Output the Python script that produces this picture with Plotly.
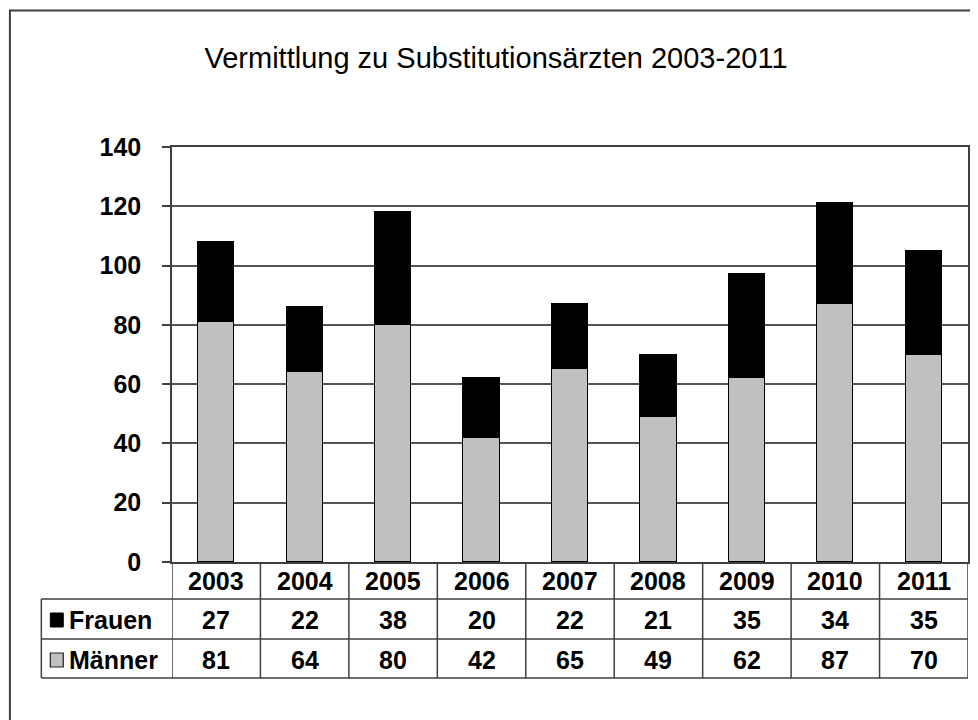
import plotly.graph_objects as go

# ---- data ----
years = ["2003", "2004", "2005", "2006", "2007", "2008", "2009", "2010", "2011"]
frauen = [27, 22, 38, 20, 22, 21, 35, 34, 35]
maenner = [81, 64, 80, 42, 65, 49, 62, 87, 70]
y_ticks = [0, 20, 40, 60, 80, 100, 120, 140]
series_names = ["Frauen", "Männer"]
title_text = "Vermittlung zu Substitutionsärzten 2003-2011"

# ---- layout helpers ----
# The page body has an 8px default margin, so the figure is drawn at (8, 8);
# all target positions below are in window pixels.
OFF = 8
WIN_W, WIN_H = 978, 720
W, H = WIN_W - OFF, WIN_H - OFF
L, R, T, B = 172, 970, 147, 562  # plot area in window pixels


def px(x):
    return (x - L) / (R - L)


def py(y):
    return (B - y) / (B - T)


FONT = "Arial, Liberation Sans, sans-serif"
LINE = "#404040"
GRAY = "#C0C0C0"

xs = list(range(len(years)))

fig = go.Figure()
fig.add_bar(x=xs, y=maenner, name=series_names[1], width=0.41,
            marker=dict(color=GRAY, line=dict(color="black", width=1.3)))
fig.add_bar(x=xs, y=frauen, name=series_names[0], width=0.41,
            marker=dict(color="black", line=dict(color="black", width=1.3)))

shapes = []
# outer chart border
shapes.append(dict(type="rect", xref="paper", yref="paper",
                   x0=px(9.5), x1=px(1200), y0=py(1000), y1=py(10.5),
                   line=dict(color=LINE, width=2), fillcolor="rgba(0,0,0,0)", layer="below"))
# table horizontal lines
for yy, x0 in [(599, 41), (639, 41), (678, 41)]:
    shapes.append(dict(type="line", xref="paper", yref="paper",
                       x0=px(x0), x1=1, y0=py(yy), y1=py(yy),
                       line=dict(color=LINE, width=1.5)))
# table left border (legend column)
shapes.append(dict(type="line", xref="paper", yref="paper",
                   x0=px(41), x1=px(41), y0=py(599), y1=py(678),
                   line=dict(color=LINE, width=1.5)))
# column separators
for i in range(len(years) + 1):
    shapes.append(dict(type="line", xref="x", yref="paper",
                       x0=i - 0.5, x1=i - 0.5, y0=py(562), y1=py(678),
                       line=dict(color=LINE, width=1.5)))
# legend keys
shapes.append(dict(type="rect", xref="paper", yref="paper",
                   x0=px(50), x1=px(63), y0=py(627), y1=py(613),
                   fillcolor="black", line=dict(color="black", width=1)))
shapes.append(dict(type="rect", xref="paper", yref="paper",
                   x0=px(50), x1=px(63), y0=py(667), y1=py(653),
                   fillcolor=GRAY, line=dict(color="#202020", width=1.2)))

annotations = []
tf = dict(family=FONT, size=25, color="black", weight="bold")
for i, yr in enumerate(years):
    annotations.append(dict(x=i, y=py(581), xref="x", yref="paper", text=yr,
                            showarrow=False, xanchor="center", yanchor="middle", font=tf))
    annotations.append(dict(x=i, y=py(620), xref="x", yref="paper", text=str(frauen[i]),
                            showarrow=False, xanchor="center", yanchor="middle", font=tf))
    annotations.append(dict(x=i, y=py(660), xref="x", yref="paper", text=str(maenner[i]),
                            showarrow=False, xanchor="center", yanchor="middle", font=tf))
annotations.append(dict(x=px(67), y=py(620), xref="paper", yref="paper", text=series_names[0],
                        showarrow=False, xanchor="left", yanchor="middle", font=tf))
annotations.append(dict(x=px(67), y=py(660), xref="paper", yref="paper", text=series_names[1],
                        showarrow=False, xanchor="left", yanchor="middle", font=tf))

fig.update_layout(
    width=W, height=H,
    margin=dict(l=L - OFF, r=WIN_W - R, t=T - OFF, b=WIN_H - B, pad=0),
    paper_bgcolor="white", plot_bgcolor="white",
    barmode="stack", showlegend=False, bargap=0,
    title=dict(text=title_text, x=(496 - OFF) / W, xref="container", xanchor="center",
               y=1 - (58 - OFF) / H, yref="container", yanchor="middle",
               font=dict(family=FONT, size=29, color="black")),
    xaxis=dict(range=[-0.5, len(years) - 0.5], showticklabels=False, ticks="",
               showgrid=False, zeroline=False, showline=True, linecolor=LINE,
               linewidth=1.5, mirror=True, fixedrange=True),
    yaxis=dict(range=[0, 140], tickvals=y_ticks, showgrid=True, gridcolor="#555555",
               gridwidth=1.5, zeroline=False, showline=True, linecolor=LINE,
               linewidth=1.5, mirror=True, ticks="outside", ticklen=8,
               tickcolor=LINE, tickwidth=1.5, ticklabelstandoff=16,
               tickfont=dict(family=FONT, size=25, color="black", weight="bold")),
    shapes=shapes, annotations=annotations,
)

fig.write_html("out.html")
